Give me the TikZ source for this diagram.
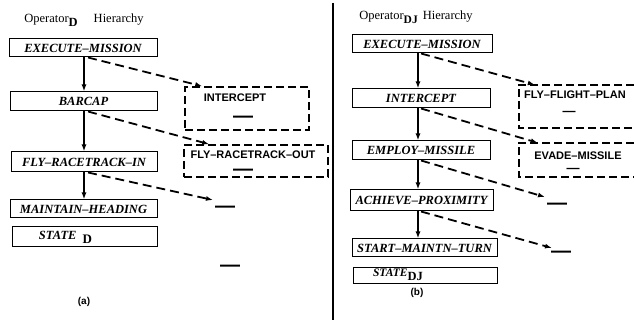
\documentclass[tikz,border=0pt]{standalone}
\usepackage{fontspec}
\setmainfont{Liberation Serif}
\setsansfont{Liberation Sans}
\usetikzlibrary{arrows.meta,calc}
\tikzset{
  box/.style={draw, line width=1pt, inner sep=0pt, font=\bfseries\itshape\fontsize{12.5}{14}\selectfont},
  dbox/.style={draw, line width=1.6pt, dash pattern=on 8pt off 4pt, inner sep=0pt},
  dopen/.style={inner sep=0pt},
  dline/.style={line width=1.6pt, dash pattern=on 8pt off 4pt},
  sarrow/.style={line width=1.8pt, -{Latex[length=7pt,width=5pt]}},
  darrow/.style={line width=1.8pt, dash pattern=on 9pt off 5pt, -{Latex[length=7pt,width=5pt]}},
  stxt/.style={inner sep=0pt, font=\sffamily\bfseries\fontsize{11}{12}\selectfont},
  dashmark/.style={inner sep=0pt, text height=2pt, text depth=0pt, yshift=-5pt, font=\sffamily\bfseries\fontsize{20}{20}\selectfont},
  smalldash/.style={inner sep=0pt, text height=1.5pt, text depth=0pt, yshift=-3pt, font=\sffamily\bfseries\fontsize{13}{13}\selectfont},
  ttl/.style={inner sep=0pt, font=\fontsize{12.5}{14}\selectfont},
  panellabel/.style={inner sep=0pt, font=\sffamily\bfseries\fontsize{10}{12}\selectfont},
}
\begin{document}
\begin{tikzpicture}[x=1pt,y=-1pt]
\useasboundingbox (0,0) rectangle (634,320);
% divider
\coordinate (dtop) at (333,3);
\coordinate (dbot) at (333,320);
\draw[line width=1.5pt] (dtop) -- (dbot);

% ---------- left panel ----------
\node[ttl] (ltitle) at (84,20) {Operator\raisebox{-4pt}{\bfseries D}\hspace{16pt}Hierarchy};
\node[box, minimum width=148pt, minimum height=18pt] (lexec) at (83,48) {EXECUTE–MISSION};
\node[box, minimum width=147pt, minimum height=19pt] (lbar) at (83.5,101.5) {BARCAP};
\node[box, minimum width=146pt, minimum height=20pt] (lfly) at (84,162) {FLY–RACETRACK–IN};
\node[box, minimum width=147pt, minimum height=18pt] (lmaint) at (83.5,209) {MAINTAIN–HEADING};
\node[box, minimum width=145pt, minimum height=20pt] (lstate) at (84.5,237)
  {\makebox[145pt][l]{\hspace{27pt}STATE\hspace{6pt}\raisebox{-4pt}{\upshape\fontsize{13}{13}\selectfont D}}};

\node[dbox, minimum width=124pt, minimum height=43pt] (lint) at (247,108.5) {};
\node[stxt] (lintt) at (235,98) {INTERCEPT};
\node[dashmark] (lintd) at (243,117) {—};
\node[dbox, minimum width=144pt, minimum height=32pt] (lout) at (256,161) {};
\node[stxt] (loutt) at (253,155) {FLY–RACETRACK–OUT};
\node[dashmark] (loutd) at (243,170) {—};
\node[dashmark] (ld3) at (225,207) {—};
\node[dashmark] (ld4) at (230,265) {—};
\coordinate (le3) at (213,200);
\node[panellabel] (la) at (84,302) {(a)};

\coordinate (lcol) at (84,0);
\coordinate (lds) at (88,0);
\draw[sarrow] (lexec.south -| lcol) -- (lbar.north -| lcol);
\draw[sarrow] (lbar.south -| lcol) -- (lfly.north -| lcol);
\draw[sarrow] (lfly.south -| lcol) -- (lmaint.north -| lcol);
\draw[darrow] (lexec.south -| lds) -- ($(lint.north west)+(18,0)$);
\draw[darrow] (lbar.south -| lds) -- ($(lout.north west)+(26,0)$);
\draw[darrow] (lfly.south -| lds) -- (le3);

% ---------- right panel ----------
\node[ttl] (rtitle) at (416,17) {Operator\raisebox{-4pt}{\bfseries\fontsize{11.5}{12}\selectfont DJ}\hspace{5pt}Hierarchy};
\node[box, minimum width=140pt, minimum height=18pt] (rexec) at (422,44) {EXECUTE–MISSION};
\node[box, minimum width=138pt, minimum height=19pt] (rint) at (421,98.5) {INTERCEPT};
\node[box, minimum width=138pt, minimum height=19pt] (remp) at (421,150.5) {EMPLOY–MISSILE};
\node[box, minimum width=143pt, minimum height=21pt] (rach) at (421.5,200.5) {ACHIEVE–PROXIMITY};
\node[box, minimum width=145pt, minimum height=18pt] (rstart) at (424.5,248) {START–MAINTN–TURN};
\node[box, minimum width=144pt, minimum height=16pt] (rstate) at (425,275)
  {\makebox[144pt][l]{\hspace{20pt}\fontsize{11.5}{12}\selectfont STATE\raisebox{-4pt}{\upshape\fontsize{12.5}{12}\selectfont DJ}}};

\node[dopen, minimum width=115pt, minimum height=43pt] (rfly) at (576.5,106.5) {};
\draw[dline] (rfly.north east) -- (rfly.north west) -- (rfly.south west) -- (rfly.south east);
\node[stxt] (rflyt) at (575,95) {FLY–FLIGHT–PLAN};
\node[smalldash] (rflyd) at (569,112) {—};
\node[dopen, minimum width=115pt, minimum height=34pt] (rev) at (576.5,160) {};
\draw[dline] (rev.north east) -- (rev.north west) -- (rev.south west) -- (rev.south east);
\node[stxt] (revt) at (578,156) {EVADE–MISSILE};
\node[smalldash] (revd) at (573,169) {—};
\coordinate (re3) at (545,197);
\coordinate (re4) at (552,248);
\node[dashmark] (rd3) at (557,204) {—};
\node[dashmark] (rd4) at (561,252) {—};
\node[panellabel] (rb) at (417,293) {(b)};

\coordinate (rcol) at (418,0);
\coordinate (rds) at (421,0);
\draw[sarrow] (rexec.south -| rcol) -- (rint.north -| rcol);
\draw[sarrow] (rint.south -| rcol) -- (remp.north -| rcol);
\draw[sarrow] (remp.south -| rcol) -- (rach.north -| rcol);
\draw[sarrow] (rach.south -| rcol) -- (rstart.north -| rcol);
\draw[darrow] (rexec.south -| rds) -- ($(rfly.north west)+(16,0)$);
\draw[darrow] (rint.south -| rds) -- ($(rev.north west)+(19,0)$);
\draw[darrow] (remp.south -| rds) -- (re3);
\draw[darrow] (rach.south -| rds) -- (re4);
\end{tikzpicture}
\end{document}
